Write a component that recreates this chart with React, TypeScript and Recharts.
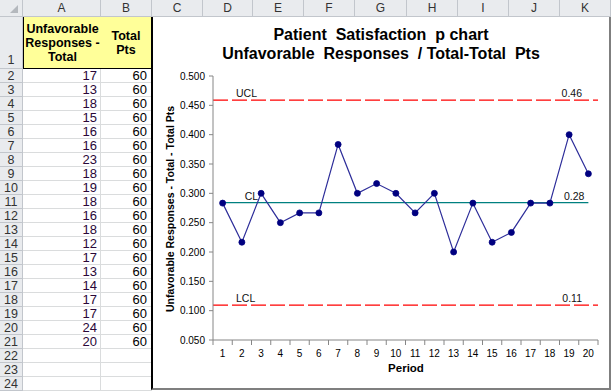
import React from 'react'
import { LineChart, Line, XAxis, YAxis, ReferenceLine } from 'recharts'

// ─── Sheet data ──────────────────────────────────────────────────────
const PERIODS = [1, 2, 3, 4, 5, 6, 7, 8, 9, 10, 11, 12, 13, 14, 15, 16, 17, 18, 19, 20]
const UNFAVORABLE = [17, 13, 18, 15, 16, 16, 23, 18, 19, 18, 16, 18, 12, 17, 13, 14, 17, 17, 24, 20]
const TOTAL_PTS = [60, 60, 60, 60, 60, 60, 60, 60, 60, 60, 60, 60, 60, 60, 60, 60, 60, 60, 60, 60]
const Y_TICKS = [0.05, 0.1, 0.15, 0.2, 0.25, 0.3, 0.35, 0.4, 0.45, 0.5]

const CL = 0.2842
const UCL = 0.4589
const LCL = 0.1095

const COLUMNS = ['A', 'B', 'C', 'D', 'E', 'F', 'G', 'H', 'I', 'J', 'K']

// ─── Layout / styles ─────────────────────────────────────────────────
const FONT = '"Liberation Sans", Arial, sans-serif'
const COL_EDGES = [23, 101, 152, 203, 253, 304, 355, 407, 458, 509, 560, 611]
const HEADER_H = 17
const ROW1_BOTTOM = 69
const ROW_H = 14
const HDR_BG = '#E9EBEE'
const HDR_LINE = '#C2C6CC'
const GRID = '#DADCDD'
const AXIS = '#868686'

const data = PERIODS.map((period, i) => ({ period, p: UNFAVORABLE[i] / TOTAL_PTS[i] }))
// category labels at integers, tick marks between categories
const X_TICKS = [...PERIODS.flatMap(p => [p - 0.5, p]), PERIODS[PERIODS.length - 1] + 0.5]

const rowTop = (r: number) => (r === 1 ? HEADER_H : ROW1_BOTTOM + (r - 2) * ROW_H)
const SHEET_ROWS = Array.from({ length: 23 }, (_, i) => i + 2)

const renderPeriodTick = (props: any) => {
  const { x, y, payload } = props
  const v = payload.value
  if (!Number.isInteger(v)) {
    return <line x1={x} x2={x} y1={y} y2={y + 5} stroke={AXIS} />
  }
  return (
    <text x={x} y={y + 17} textAnchor="middle" fontSize={10} fontFamily={FONT} fill="#000">
      {v}
    </text>
  )
}

const limitLabel = (left: string, right: string, leftDx: number, rightDx: number) => (props: any) => {
  const { x, y, width } = props.viewBox
  return (
    <g fontFamily={FONT} fontSize={10.5} fill="#111">
      <text x={x + leftDx} y={y - 3}>{left}</text>
      <text x={x + width - rightDx} y={y - 3} textAnchor="end">{right}</text>
    </g>
  )
}

export default function App() {
  return (
    <div style={{ position: 'absolute', left: 0, top: 0, width: 611, height: 392, overflow: 'hidden', background: '#fff', fontFamily: FONT }}>
      {/* corner */}
      <div style={{ position: 'absolute', left: 0, top: 0, width: 23, height: HEADER_H, boxSizing: 'border-box', background: HDR_BG, borderRight: `1px solid ${HDR_LINE}`, borderBottom: `1px solid ${HDR_LINE}` }}>
        <svg width={22} height={16} style={{ display: 'block' }}>
          <polygon points="18,5 18,13 10,13" fill="#B4B8BD" />
        </svg>
      </div>

      {/* column headers */}
      {COLUMNS.map((c, i) => (
        <div key={c} style={{ position: 'absolute', left: COL_EDGES[i], top: 0, width: COL_EDGES[i + 1] - COL_EDGES[i], height: HEADER_H, boxSizing: 'border-box', background: HDR_BG, borderRight: `1px solid ${HDR_LINE}`, borderBottom: `1px solid ${HDR_LINE}`, textAlign: 'center', fontSize: 12, lineHeight: '16px', color: '#333' }}>
          {c}
        </div>
      ))}

      {/* row headers */}
      <div style={{ position: 'absolute', left: 0, top: HEADER_H, width: 23, height: ROW1_BOTTOM - HEADER_H, boxSizing: 'border-box', background: HDR_BG, borderRight: `1px solid ${HDR_LINE}`, borderBottom: `1px solid ${HDR_LINE}`, textAlign: 'center', fontSize: 12.5, color: '#333', display: 'flex', alignItems: 'flex-end', justifyContent: 'center', paddingBottom: 1 }}>
        1
      </div>
      {SHEET_ROWS.map(r => (
        <div key={r} style={{ position: 'absolute', left: 0, top: rowTop(r), width: 23, height: ROW_H, boxSizing: 'border-box', background: HDR_BG, borderRight: `1px solid ${HDR_LINE}`, borderBottom: `1px solid ${HDR_LINE}`, textAlign: 'center', fontSize: 12.5, lineHeight: '14px', color: '#333' }}>
          {r}
        </div>
      ))}

      {/* header cells */}
      <div style={{ position: 'absolute', left: 23, top: HEADER_H, width: 79, height: ROW1_BOTTOM - HEADER_H, boxSizing: 'border-box', background: '#FFFF99', border: '1px solid #000', borderTop: 'none', display: 'flex', alignItems: 'center', justifyContent: 'center', textAlign: 'center', fontWeight: 'bold', fontSize: 12.5, lineHeight: '14px', whiteSpace: 'nowrap', paddingTop: 1 }}>
        Unfavorable<br />Responses -<br />Total
      </div>
      <div style={{ position: 'absolute', left: 101, top: HEADER_H, width: 51, height: ROW1_BOTTOM - HEADER_H, boxSizing: 'border-box', background: '#FFFF99', borderRight: '1px solid #000', borderBottom: '1px solid #000', display: 'flex', alignItems: 'center', justifyContent: 'center', textAlign: 'center', fontWeight: 'bold', fontSize: 12.5, lineHeight: '14px', paddingTop: 1 }}>
        Total<br />Pts
      </div>

      {/* value cells */}
      {SHEET_ROWS.map((r, i) => (
        <React.Fragment key={r}>
          <div style={{ position: 'absolute', left: 23, top: rowTop(r), width: 78, height: ROW_H, boxSizing: 'border-box', borderRight: `1px solid ${GRID}`, borderBottom: `1px solid ${GRID}`, textAlign: 'right', paddingRight: 3, fontSize: 13, lineHeight: '14px', color: '#2A0838' }}>
            {UNFAVORABLE[i] ?? ''}
          </div>
          <div style={{ position: 'absolute', left: 101, top: rowTop(r), width: 51, height: ROW_H, boxSizing: 'border-box', borderRight: `1px solid ${GRID}`, borderBottom: `1px solid ${GRID}`, textAlign: 'right', paddingRight: 4, fontSize: 13, lineHeight: '14px', color: '#000' }}>
            {TOTAL_PTS[i] ?? ''}
          </div>
        </React.Fragment>
      ))}

      {/* chart object */}
      <div style={{ position: 'absolute', left: 151, top: HEADER_H, width: 460, height: 373, boxSizing: 'border-box', background: '#fff', borderLeft: '2px solid #000', borderRight: '2px solid #7F7F7F', borderBottom: '2px solid #7F7F7F' }}>
        <div style={{ position: 'absolute', left: 0, top: 8, width: 456, textAlign: 'center', fontWeight: 'bold', fontSize: 16, lineHeight: '19px', whiteSpace: 'pre', color: '#000' }}>
          {'Patient  Satisfaction  p chart\nUnfavorable  Responses  / Total-Total  Pts'}
        </div>
        <div style={{ position: 'absolute', left: 17, top: 192, transform: 'translate(-50%, -50%) rotate(-90deg)', whiteSpace: 'nowrap', fontWeight: 'bold', fontSize: 10.5, color: '#000' }}>
          Unfavorable Responses - Total - Total Pts
        </div>
        <div style={{ position: 'absolute', left: 253, top: 351, transform: 'translate(-50%, -50%)', whiteSpace: 'nowrap', fontWeight: 'bold', fontSize: 11.5, color: '#000' }}>
          Period
        </div>

        <LineChart width={456} height={371} data={data} margin={{ top: 59, right: 11, left: 0, bottom: 0 }}>
          <XAxis
            type="number"
            dataKey="period"
            domain={[0.5, 20.5]}
            ticks={X_TICKS}
            interval={0}
            tick={renderPeriodTick}
            tickLine={false}
            tickSize={0}
            tickMargin={0}
            height={48}
            axisLine={{ stroke: AXIS }}
          />
          <YAxis
            type="number"
            domain={[0.05, 0.5]}
            ticks={Y_TICKS}
            interval={0}
            width={60}
            tickSize={4}
            tickMargin={4}
            tickFormatter={(v: number) => v.toFixed(3)}
            tick={{ fontSize: 10, fill: '#000', fontFamily: FONT }}
            axisLine={{ stroke: AXIS }}
            tickLine={{ stroke: AXIS }}
            allowDataOverflow
          />
          <ReferenceLine y={UCL} stroke="#FF0000" strokeWidth={1.25} strokeDasharray="15 4" label={limitLabel('UCL', UCL.toFixed(2), 23, 16)} />
          <ReferenceLine y={LCL} stroke="#FF0000" strokeWidth={1.25} strokeDasharray="15 4" label={limitLabel('LCL', LCL.toFixed(2), 23, 16)} />
          <ReferenceLine
            segment={[{ x: PERIODS[0], y: CL }, { x: PERIODS[PERIODS.length - 1], y: CL }]}
            stroke="#008080"
            strokeWidth={1.2}
            label={limitLabel('CL', CL.toFixed(2), 22, 4)}
          />
          <Line
            dataKey="p"
            stroke="#2E2E9A"
            strokeWidth={1.2}
            dot={{ r: 3, fill: '#000080', stroke: '#000080', strokeWidth: 0.8 }}
            isAnimationActive={false}
          />
        </LineChart>
      </div>
    </div>
  )
}
